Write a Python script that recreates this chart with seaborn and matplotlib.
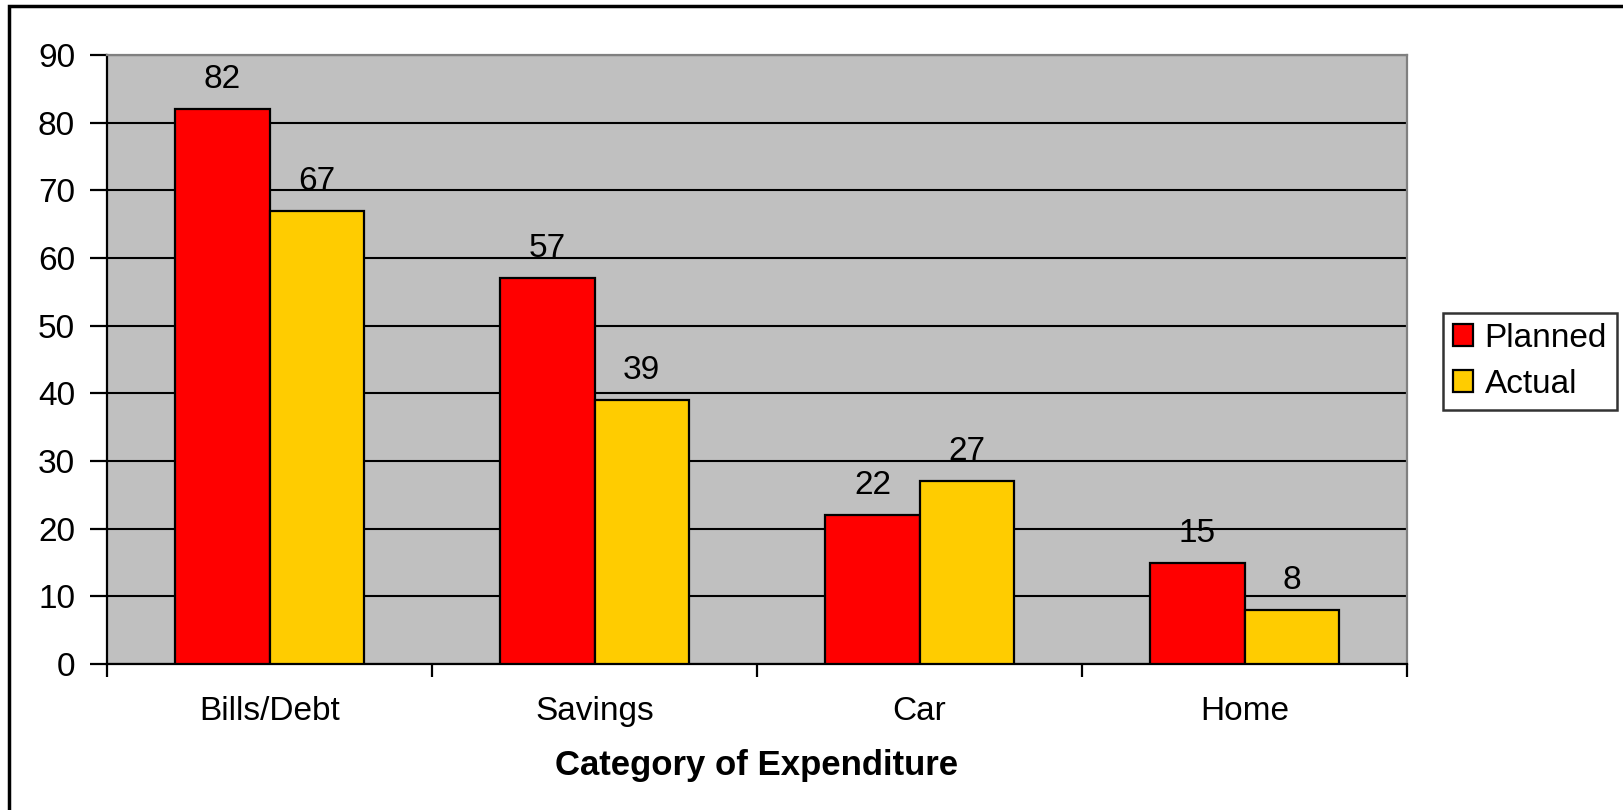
import numpy as np
import pandas as pd
import matplotlib
matplotlib.use("Agg")
import matplotlib.pyplot as plt
import seaborn as sns
from matplotlib.patches import Rectangle, Patch

categories = ["Bills/Debt", "Savings", "Car", "Home"]
planned = [82, 57, 22, 15]
actual = [67, 39, 27, 8]
series_names = ["Planned", "Actual"]
y_ticks = [0, 10, 20, 30, 40, 50, 60, 70, 80, 90]

df = pd.DataFrame({
    "category": categories * 2,
    "series": [series_names[0]] * len(categories) + [series_names[1]] * len(categories),
    "value": planned + actual,
})

sns.set_theme(style="white")
plt.rcParams["font.family"] = ["Liberation Sans", "DejaVu Sans"]

FS = 24

fig = plt.figure(figsize=(16.23, 8.1), dpi=100)
ax = fig.add_axes([107 / 1623, 1 - 664 / 810, 1300 / 1623, 609 / 810])
ax.set_facecolor("#C0C0C0")

palette = {"Planned": "#FF0000", "Actual": "#FFCC00"}
sns.barplot(data=df, x="category", y="value", hue="series", palette=palette,
            width=0.58, edgecolor="black", linewidth=1.6, saturation=1,
            ax=ax, legend=False, zorder=3)

for cont in ax.containers:
    ax.bar_label(cont, padding=10, fontsize=FS, color="black")

ax.set_ylim(0, 90)
ax.set_xlim(-0.5, len(categories) - 0.5)
ax.set_yticks(y_ticks)
ax.yaxis.grid(True, color="black", linewidth=1.5, zorder=0)
ax.set_axisbelow(True)

# category boundary ticks + centred labels
ax.set_xticks(np.arange(-0.5, len(categories), 1.0))
ax.set_xticklabels([])
ax.set_xticks(np.arange(len(categories)), minor=True)
ax.set_xticklabels(categories, minor=True, fontsize=FS, color="black")
ax.tick_params(axis="x", which="major", length=9, width=1.6, color="black", direction="out", bottom=True)
ax.tick_params(axis="x", which="minor", length=0, pad=23)
ax.tick_params(axis="y", length=12, width=1.6, color="black", direction="out", left=True,
               labelsize=FS, labelcolor="black", pad=11)

for side in ["left", "bottom"]:
    ax.spines[side].set_color("black")
    ax.spines[side].set_linewidth(1.6)
for side in ["top", "right"]:
    ax.spines[side].set_color("#808080")
    ax.spines[side].set_linewidth(1.6)

ax.set_ylabel("")
ax.set_xlabel("Category of Expenditure", fontsize=FS + 1, fontweight="bold", color="black", labelpad=16)

handles = [Patch(facecolor=palette[s], edgecolor="black", linewidth=1.6) for s in series_names]
leg = fig.legend(handles, series_names, loc="center right", bbox_to_anchor=(1617 / 1623, 0.554),
                 fontsize=FS, frameon=True, fancybox=False, edgecolor="black",
                 handlelength=0.6, handleheight=0.6, handletextpad=0.35,
                 labelspacing=0.45, borderpad=0.3, borderaxespad=0)
leg.get_frame().set_linewidth(1.8)
for t in leg.get_texts():
    t.set_color("black")

# outer chart border (top and left visible)
fig.patches.append(Rectangle((9 / 1623, -0.1), 1.2, 1 - 6 / 810 + 0.1,
                             transform=fig.transFigure, fill=False,
                             edgecolor="black", linewidth=2.5))

fig.savefig("out.png", dpi=100)
